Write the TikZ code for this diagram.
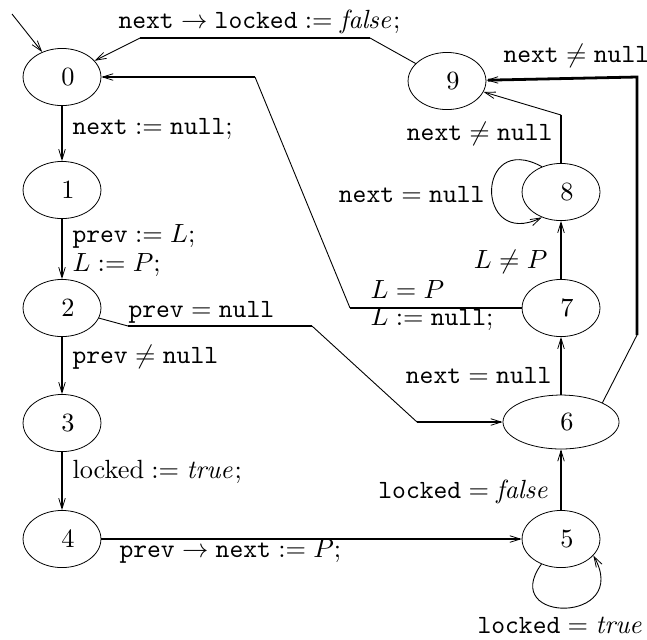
\documentclass[tikz,border=0pt]{standalone}
\usetikzlibrary{shapes.geometric,arrows.meta}
\newcommand{\tv}[1]{\texttt{#1}}
\begin{document}
\begin{tikzpicture}[x=0.38pt,y=-0.38pt,
  state/.style={ellipse,draw,line width=0.3pt,inner sep=0pt,minimum width=29.6pt,minimum height=21.7pt,
    execute at begin node={\hspace*{4.5pt}}},
  wide/.style={state,minimum width=44.1pt,minimum height=20.5pt},
  thinseg/.style={line width=0.34pt},
  thickseg/.style={line width=1.06pt},
  tip/.style={-{Straight Barb[length=4pt,width=2.5pt,line width=0.3pt]}},
  lab/.style={inner sep=0pt}]
\useasboundingbox (0,0) rectangle (647,639);

% states
\node[state] (n0) at (62,77) {0};
\node[state] (n1) at (62,190) {1};
\node[state] (n2) at (62,308) {2};
\node[state] (n3) at (62,423) {3};
\node[state] (n4) at (62,539) {4};
\node[state] (n9) at (447,81) {9};
\node[state] (n8) at (561,192) {8};
\node[state] (n7) at (561,308) {7};
\node[wide]  (n6) at (561,422) {6};
\node[state] (n5) at (561,539) {5};

% bend points of the long connectors
\coordinate (init) at (12,14);
\coordinate (c90a) at (370,38);
\coordinate (c90b) at (140,38);
\coordinate (c70a) at (350,308);
\coordinate (c70b) at (255,77);
\coordinate (c26a) at (128,326);
\coordinate (c26b) at (312,326);
\coordinate (c26c) at (417,422);
\coordinate (c89)  at (561,115);
\coordinate (c69a) at (637,335);
\coordinate (c69b) at (637,77);

% initial arrow
\draw[thinseg,tip] (init) -- (n0);

% left column
\draw[thickseg,tip] (n0) -- (n1);
\draw[thickseg,tip] (n1) -- (n2);
\draw[thickseg,tip] (n2) -- (n3);
\draw[thickseg,tip] (n3) -- (n4);
\draw[thickseg,tip] (n4) -- (n5);

% right column
\draw[thickseg,tip] (n5) -- (n6);
\draw[thickseg,tip] (n6) -- (n7);
\draw[thickseg,tip] (n7) -- (n8);
\draw[thickseg] (n8) -- (c89);
\draw[thinseg,tip] (c89) -- (n9);

% 9 -> 0
\draw[thinseg] (n9) -- (c90a);
\draw[thickseg] (c90a) -- (c90b);
\draw[thinseg,tip] (c90b) -- (n0);

% 7 -> 0
\draw[thickseg] (n7) -- (c70a);
\draw[thinseg] (c70a) -- (c70b);
\draw[thickseg,tip] (c70b) -- (n0);

% 2 -> 6
\draw[thinseg] (n2) -- (c26a);
\draw[thickseg] (c26a) -- (c26b);
\draw[thinseg] (c26b) -- (c26c);
\draw[thickseg,tip] (c26c) -- (n6);

% 6 -> 9
\draw[thinseg] (n6.25) -- (c69a);
\draw[thickseg,tip] (c69a) -- (c69b) -- (n9);

% self loops
\draw[thinseg,tip] (n8.127) .. controls (475,130) and (475,250) .. (n8.233);
\draw[thinseg,tip] (n5.232) .. controls (498,624) and (632,624) .. (n5.333);

% labels
\node[lab,anchor=base west] (l90) at (118,28) {$\tv{next}\rightarrow\tv{locked}:=\mathit{false};$};
\node[lab,anchor=base west] (l01) at (72,134) {$\tv{next}:=\tv{null};$};
\node[lab,anchor=base west] (l12a) at (72,242) {$\tv{prev}:=L;$};
\node[lab,anchor=base west] (l12b) at (72,271) {$L:=P;$};
\node[lab,anchor=base west] (l26) at (128,317) {$\tv{prev}=\tv{null}$};
\node[lab,anchor=base west] (l23) at (72,363) {$\tv{prev}\neq\tv{null}$};
\node[lab,anchor=base west] (l34) at (72,478) {$\mathrm{locked}:=\mathit{true};$};
\node[lab,anchor=base west] (l45) at (119,557) {$\tv{prev}\rightarrow\tv{next}:=P;$};
\node[lab,anchor=base east] (l56) at (550,498) {$\tv{locked}=\mathit{false}$};
\node[lab,anchor=base west] (l55) at (477,633) {$\tv{locked}=\mathit{true}$};
\node[lab,anchor=base east] (l67) at (552,383) {$\tv{next}=\tv{null}$};
\node[lab,anchor=base east] (l78) at (548,268) {$L\neq P$};
\node[lab,anchor=base west] (l70a) at (370,298) {$L=P$};
\node[lab,anchor=base west] (l70b) at (370,325) {$L:=\tv{null};$};
\node[lab,anchor=base east] (l88) at (485,202) {$\tv{next}=\tv{null}$};
\node[lab,anchor=base east] (l89) at (553,140) {$\tv{next}\neq\tv{null}$};
\node[lab,anchor=base west] (l69) at (503,62) {$\tv{next}\neq\tv{null}$};
\end{tikzpicture}
\end{document}
